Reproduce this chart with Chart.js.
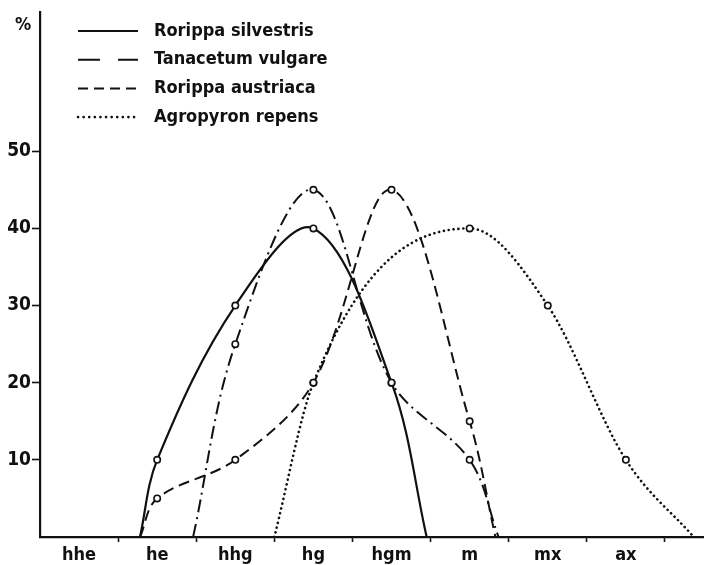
<!DOCTYPE html>
<html>
<head>
<meta charset="utf-8">
<script src="https://cdn.jsdelivr.net/npm/chart.js@4/dist/chart.umd.min.js"></script>
<style>
  html, body { margin: 0; padding: 0; background: #fff; }
  #wrap { width: 704px; height: 565px; }
</style>
</head>
<body>
<div id="wrap"><canvas id="habitatChart"></canvas></div>
<script>
// Habitat classes along the x axis (one slot each)
const categories = ['hhe', 'he', 'hhg', 'hg', 'hgm', 'm', 'mx', 'ax'];
const yTicks = [10, 20, 30, 40, 50];

// x positions are in slot units: slot i is centred at i + 0.5, ends are where a curve meets 0
const silvestrisX = [1.28, 1.5, 2.5, 3.5, 4.5, 4.95];
const silvestrisY = [0, 10, 30, 40, 20, 0];

const tanacetumX = [1.96, 2.5, 3.5, 4.5, 5.5, 5.87];
const tanacetumY = [0, 25, 45, 20, 10, 0];

const austriacaX = [1.28, 1.5, 2.5, 3.5, 4.5, 5.5, 5.83];
const austriacaY = [0, 5, 10, 20, 45, 15, 0];

const agropyronX = [3.0, 3.5, 5.5, 6.5, 7.5, 8.37];
const agropyronY = [0, 20, 40, 30, 10, 0];

const FONT = "'DejaVu Sans Condensed', 'DejaVu Sans', sans-serif";

function toPoints(xs, ys) {
    return xs.map((x, i) => ({ x: x, y: ys[i] }));
}

// circles only on the measured values, not on the zero crossings
function markerRadius(ys) {
    return ys.map(v => v === 0 ? 0 : 3.2);
}

function series(label, xs, ys, dash, width, legendDash, monotone) {
    return {
        label: label,
        data: toPoints(xs, ys),
        borderColor: '#111',
        borderWidth: width,
        borderDash: dash,
        borderCapStyle: dash.length && dash[0] < 1 ? 'round' : 'butt',
        tension: 0.35,
        cubicInterpolationMode: monotone ? 'monotone' : 'default',
        pointRadius: markerRadius(ys),
        pointBorderWidth: 1.6,
        pointBorderColor: '#111',
        pointBackgroundColor: '#fff',
        fill: false,
        legendDash: legendDash
    };
}

// vertical key in the top-left corner, plus the "%" unit above the y axis
const keyPlugin = {
    id: 'key',
    afterDraw(chart) {
        const ctx = chart.ctx;
        ctx.save();
        chart.data.datasets.forEach((ds, i) => {
            const y = 31 + i * 28.7;
            ctx.beginPath();
            ctx.setLineDash(ds.legendDash);
            ctx.lineCap = ds.borderCapStyle;
            ctx.lineWidth = ds.borderWidth;
            ctx.strokeStyle = '#111';
            ctx.moveTo(78, y);
            ctx.lineTo(138, y);
            ctx.stroke();
            ctx.setLineDash([]);
            ctx.fillStyle = '#111';
            ctx.font = 'bold 18px ' + FONT;
            ctx.textBaseline = 'middle';
            ctx.fillText(ds.label, 154, y);
        });
        ctx.font = 'bold 18px ' + FONT;
        ctx.textBaseline = 'middle';
        ctx.fillText('%', 15, 25);
        ctx.restore();
    }
};

const ctx = document.getElementById('habitatChart').getContext('2d');
const habitatChart = new Chart(ctx, {
    type: 'line',
    data: {
        datasets: [
            series('Rorippa silvestris', silvestrisX, silvestrisY, [], 2.2, [], false),
            series('Tanacetum vulgare', tanacetumX, tanacetumY, [13, 5, 2, 5], 2, [22, 18], false),
            series('Rorippa austriaca', austriacaX, austriacaY, [11, 6], 2, [10, 6], false),
            series('Agropyron repens', agropyronX, agropyronY, [0.1, 4.8], 2.6, [0.1, 5.5], true)
        ]
    },
    options: {
        responsive: true,
        maintainAspectRatio: false,
        animation: false,
        layout: { padding: { top: 10, right: 0, left: 0, bottom: 0 } },
        plugins: {
            legend: { display: false },
            tooltip: { enabled: false }
        },
        scales: {
            x: {
                type: 'linear',
                min: 0,
                max: 8.5,
                afterBuildTicks: scale => {
                    const ticks = [];
                    for (let v = 0.5; v <= 8; v += 0.5) ticks.push({ value: v });
                    scale.ticks = ticks;
                },
                afterFit: scale => { scale.height = 28; },
                border: { display: true, color: '#111', width: 2.2 },
                grid: {
                    drawOnChartArea: false,
                    drawTicks: true,
                    tickLength: 5,
                    tickWidth: 1.6,
                    tickColor: c => (c.tick && c.tick.value % 1 === 0) ? '#111' : 'rgba(0,0,0,0)'
                },
                ticks: {
                    autoSkip: false,
                    maxRotation: 0,
                    padding: 3,
                    color: '#111',
                    font: { family: FONT, size: 18, weight: 'bold' },
                    callback: v => (v % 1 === 0.5) ? categories[Math.floor(v)] : ''
                }
            },
            y: {
                min: 0,
                max: 68,
                afterBuildTicks: scale => {
                    scale.ticks = yTicks.map(v => ({ value: v }));
                },
                afterFit: scale => { scale.width = 40; },
                border: { display: true, color: '#111', width: 2.2 },
                grid: {
                    drawOnChartArea: false,
                    drawTicks: true,
                    tickLength: 8,
                    tickWidth: 1.6,
                    tickColor: '#111'
                },
                ticks: {
                    padding: 1,
                    color: '#111',
                    font: { family: FONT, size: 19, weight: 'bold' }
                }
            }
        }
    },
    plugins: [keyPlugin]
});
</script>
</body>
</html>
